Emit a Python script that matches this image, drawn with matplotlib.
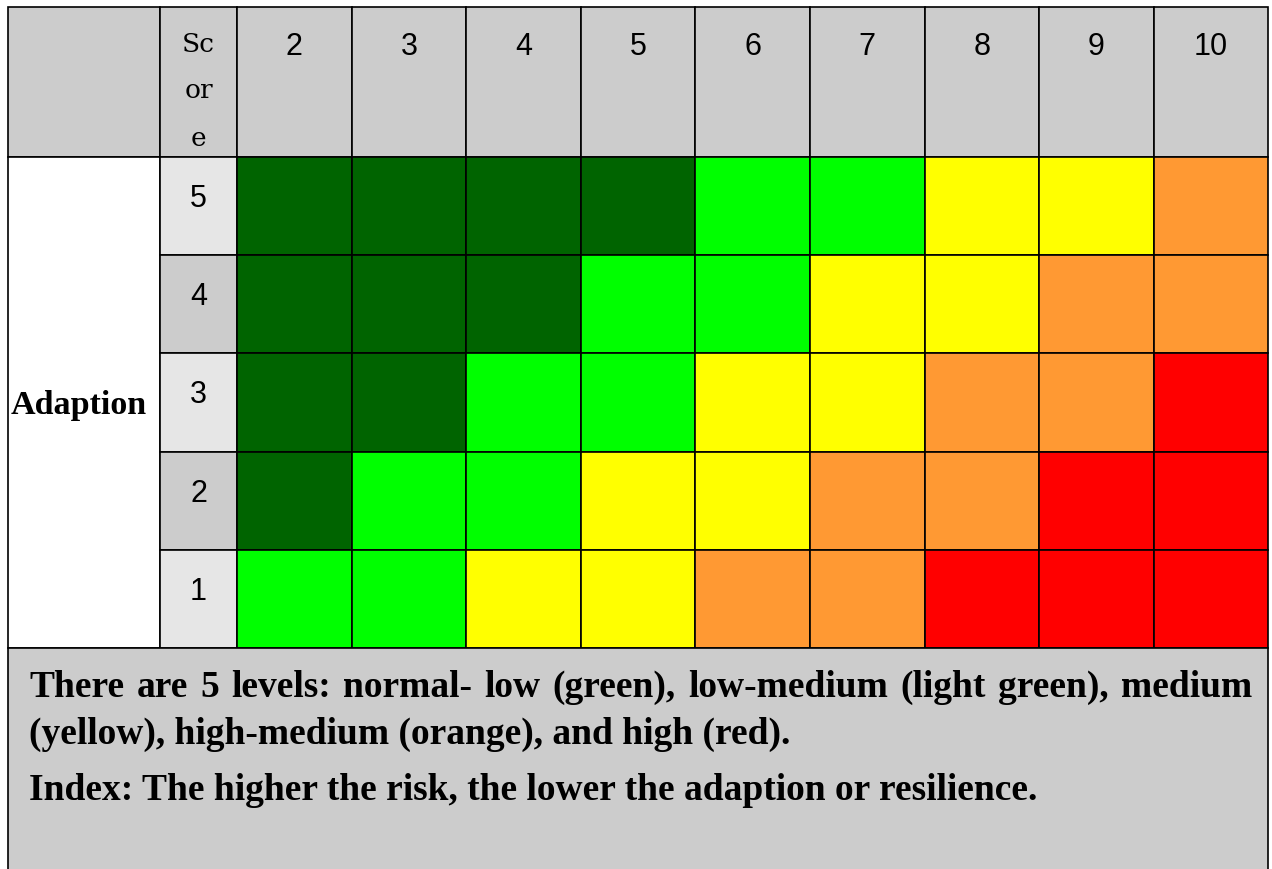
import matplotlib.pyplot as plt
from matplotlib.patches import Rectangle

# valeurs du tableau
risk_scores = [2, 3, 4, 5, 6, 7, 8, 9, 10]
adaption_scores = [5, 4, 3, 2, 1]
# niveau de risque par ligne (score d'adaptation 5 -> 1) et par colonne
levels = [
    [1, 1, 1, 1, 2, 2, 3, 3, 4],
    [1, 1, 1, 2, 2, 3, 3, 4, 4],
    [1, 1, 2, 2, 3, 3, 4, 4, 5],
    [1, 2, 2, 3, 3, 4, 4, 5, 5],
    [2, 2, 3, 3, 4, 4, 5, 5, 5],
]
level_colors = {1: '#006400', 2: '#00ff00', 3: '#ffff00', 4: '#ff9933', 5: '#ff0000'}
note_lines = [
    "There are 5 levels: normal- low (green), low-medium (light green), medium",
    "(yellow), high-medium (orange), and high (red).",
    "Index: The higher the risk, the lower the adaption or resilience.",
]

# mise en page (pixels)
x0, y0 = 8, 8
label_w, score_w, cell_w = 152, 77, 114.6
head_h, row_h = 150, 98.2
lw = 1.2
gray = '#cccccc'
light = '#e6e6e6'

fig = plt.figure(figsize=(12.72, 8.70), dpi=100)
ax = fig.add_axes([0, 0, 1, 1])
ax.set_xlim(0, 1272)
ax.set_ylim(870, 0)
ax.axis('off')

xs = x0 + label_w + score_w
x_end = xs + cell_w * len(risk_scores)
y_rows = y0 + head_h
y_end = y_rows + row_h * len(adaption_scores)

def cell(x, y, w, h, color):
    ax.add_patch(Rectangle((x, y), w, h, facecolor=color, edgecolor='black', lw=lw))

# en-tête
cell(x0, y0, label_w, head_h, gray)
cell(x0 + label_w, y0, score_w, head_h, gray)
for k, line in enumerate(["Sc", "or", "e"]):
    ax.text(x0 + label_w + score_w / 2, y0 + 36 + k * 47, line, ha='center', va='center',
            fontsize=19, family='DejaVu Serif')
for j, s in enumerate(risk_scores):
    cell(xs + j * cell_w, y0, cell_w, head_h, gray)
    ax.text(xs + (j + 0.5) * cell_w, y0 + 39, str(s), ha='center', va='center',
            fontsize=22, family='Liberation Sans')

# lignes
cell(x0, y_rows, label_w, y_end - y_rows, 'white')
ax.text(x0 + 3, (y_rows + y_end) / 2 + 2, "Adaption", ha='left', va='center',
        fontsize=24.5, family='Liberation Serif', fontweight='bold')
for i, a in enumerate(adaption_scores):
    y = y_rows + i * row_h
    cell(x0 + label_w, y, score_w, row_h, light if i % 2 == 0 else gray)
    ax.text(x0 + label_w + score_w / 2, y + 41, str(a), ha='center', va='center',
            fontsize=22, family='Liberation Sans')
    for j in range(len(risk_scores)):
        cell(xs + j * cell_w, y, cell_w, row_h, level_colors[levels[i][j]])

# zone de texte du bas
ax.add_patch(Rectangle((x0, y_end), x_end - x0, 880 - y_end, facecolor=gray,
                       edgecolor='black', lw=lw))
note_style = dict(ha='left', va='baseline', fontsize=27, family='Liberation Serif',
                  fontweight='bold')
baselines = [697, 744, 800]
text_left, text_right = x0 + 21, 1252

# première ligne justifiée : on place les mots un par un
renderer = fig.canvas.get_renderer()
words = note_lines[0].split(' ')
items = [ax.text(0, baselines[0], w, **note_style) for w in words]
inv = ax.transData.inverted()
widths = []
for t in items:
    bb = t.get_window_extent(renderer)
    (xa, _), (xb, _) = inv.transform([[bb.x0, bb.y0], [bb.x1, bb.y0]])
    widths.append(xb - xa)
gap = (text_right - text_left - sum(widths)) / (len(words) - 1)
pos = text_left
for t, w in zip(items, widths):
    t.set_x(pos)
    pos += w + gap

for line, b in zip(note_lines[1:], baselines[1:]):
    ax.text(text_left, b, line, **note_style)

fig.savefig('out.png', dpi=100)
